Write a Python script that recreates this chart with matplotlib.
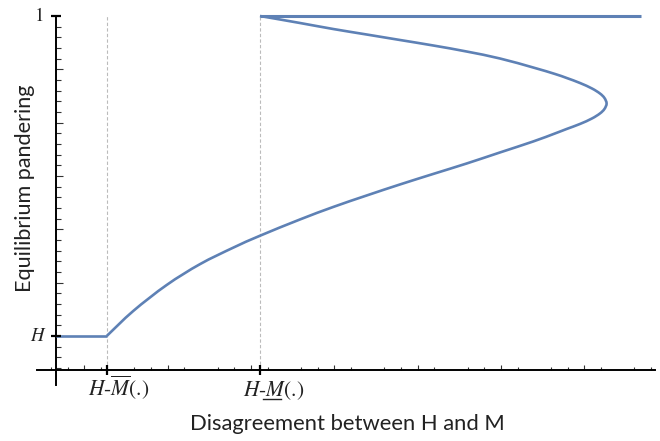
import matplotlib
matplotlib.use('Agg')
import matplotlib.pyplot as plt
import numpy as np
from matplotlib.path import Path
from matplotlib.patches import PathPatch
from matplotlib.ticker import FixedLocator, NullFormatter

# ---- data ----
H = 0.4
x_Mbar = 1.27          # H - overline M(.)
x_Munder = 3.108       # H - underline M(.)
x_end = 7.68
x_axis_y = 0.336       # where the x axis crosses
y_axis_x = 0.66        # where the y axis crosses

curve_x = [1.270, 1.588, 1.989, 2.388, 2.788, 3.108, 3.588, 3.988, 4.389, 4.789,
           5.188, 5.589, 5.989, 6.388, 6.649, 6.789, 6.949, 7.093, 7.189, 7.243, 7.269,
           7.243, 7.189, 7.093, 6.949, 6.789, 6.649, 6.388, 5.989, 5.589, 5.188, 4.789,
           4.389, 3.988, 3.588, 3.108]
curve_y = [0.400, 0.4469, 0.4956, 0.5346, 0.5656, 0.5879, 0.6184, 0.6419, 0.6634, 0.6841,
           0.7038, 0.7234, 0.7441, 0.7647, 0.7797, 0.7881, 0.7975, 0.8078, 0.8172, 0.8256, 0.8359,
           0.8463, 0.8547, 0.8641, 0.8744, 0.8838, 0.8913, 0.9034, 0.9203, 0.9334, 0.9447, 0.9550,
           0.9653, 0.9756, 0.9869, 1.000]

flat_x = [y_axis_x, x_Mbar]
flat_y = [H, H]
top_x = [x_Munder, x_end]
top_y = [1.0, 1.0]

xlabel = "Disagreement between H and M"
ylabel = "Equilibrium pandering"

blue = '#5E81B5'

fig = plt.figure(figsize=(6.6, 4.41), dpi=100)
ax = fig.add_axes([37/660, 56/441, 618/660, 369/441])
ax.set_xlim(0.432, 7.85)
ax.set_ylim(0.308, 1.0)

for s in ['top', 'right']:
    ax.spines[s].set_visible(False)
ax.spines['left'].set_position(('data', y_axis_x))
ax.spines['bottom'].set_position(('data', x_axis_y))
ax.spines['left'].set_linewidth(1.4)
ax.spines['bottom'].set_linewidth(1.4)

ax.xaxis.set_major_locator(FixedLocator([1, 2, 3, 4, 5, 6, 7]))
ax.xaxis.set_minor_locator(FixedLocator([0.6 + 0.2*i for i in range(37) if (i+3) % 5 != 2]))
ax.yaxis.set_major_locator(FixedLocator([0.4, 0.5, 0.6, 0.7, 0.8, 0.9]))
ax.yaxis.set_minor_locator(FixedLocator([0.34 + 0.02*i for i in range(33)
                                         if round((0.34+0.02*i)*100) % 10 != 0]))
ax.xaxis.set_major_formatter(NullFormatter())
ax.yaxis.set_major_formatter(NullFormatter())
ax.tick_params(axis='x', which='major', direction='in', length=3.8, width=0.8, color='#333333')
ax.tick_params(axis='x', which='minor', direction='in', length=2.2, width=0.8, color='#333333')
ax.tick_params(axis='y', which='major', direction='in', length=5.0, width=0.8, color='#333333')
ax.tick_params(axis='y', which='minor', direction='in', length=3.4, width=0.8, color='#333333')

for xv in [x_Mbar, x_Munder]:
    ax.plot([xv, xv], [x_axis_y, 1.0], color='#BBBBBB', lw=0.8, ls=(0, (3, 2)), zorder=1)

ax.plot(flat_x, flat_y, color=blue, lw=1.9, solid_capstyle='butt', zorder=3, clip_on=False)

# smooth curve through the read points (Catmull-Rom as cubic Bezier segments)
P = np.column_stack([curve_x, curve_y])
n = len(P)
verts = [P[0]]
codes = [Path.MOVETO]
for i in range(n - 1):
    p0 = P[i - 1] if i > 0 else P[i]
    p1, p2 = P[i], P[i + 1]
    p3 = P[i + 2] if i + 2 < n else P[i + 1]
    verts += [p1 + (p2 - p0) / 6.0, p2 - (p3 - p1) / 6.0, p2]
    codes += [Path.CURVE4] * 3
ax.add_patch(PathPatch(Path(verts, codes), facecolor='none', edgecolor=blue, lw=1.9,
                       joinstyle='round', zorder=3, clip_on=False))

ax.plot(top_x, top_y, color=blue, lw=2.2, solid_capstyle='butt', zorder=3, clip_on=False)

for xv in [x_Mbar, x_Munder]:
    ax.plot([xv], [x_axis_y], marker='|', markersize=7, mew=1.6, color='black', clip_on=False, zorder=5)
for yv in [H, 1.0]:
    ax.plot([y_axis_x], [yv], marker='_', markersize=7, mew=1.6, color='black', clip_on=False, zorder=5)

plt.rcParams['mathtext.fontset'] = 'stix'
serif_big = dict(fontsize=15.5, family='STIXGeneral', color='#222222')
serif = dict(fontsize=13.5, family='STIXGeneral', color='#222222')
ax.annotate(r'$H$-$\overline{M}$(.)', xy=(x_Mbar, x_axis_y), xytext=(-19, -26),
            textcoords='offset pixels', ha='left', va='baseline', **serif_big)
ax.annotate(r'$H$-$M$(.)', xy=(x_Munder, x_axis_y), xytext=(-17, -26),
            textcoords='offset pixels', ha='left', va='baseline', **serif_big)
ax.plot([x_Munder + 3/83.33, x_Munder + 21/83.33], [x_axis_y - 29/533.3]*2,
        color='#222222', lw=1.0, clip_on=False)
ax.annotate(r'$H$', xy=(y_axis_x, H), xytext=(-18, 0), textcoords='offset pixels',
            ha='center', va='center', **serif)
ax.annotate('1', xy=(y_axis_x, 1.0), xytext=(-16, 0), textcoords='offset pixels',
            ha='center', va='center', **serif)

fig.text(347/660, 1 - 424/441, xlabel, family='Lato', fontsize=15.8, ha='center', va='center', color='#222222')
fig.text(25/660, 1 - 188/441, ylabel, family='Lato', fontsize=15.6, ha='center', va='center',
         rotation=90, color='#222222')

fig.savefig('out.png', dpi=100)
